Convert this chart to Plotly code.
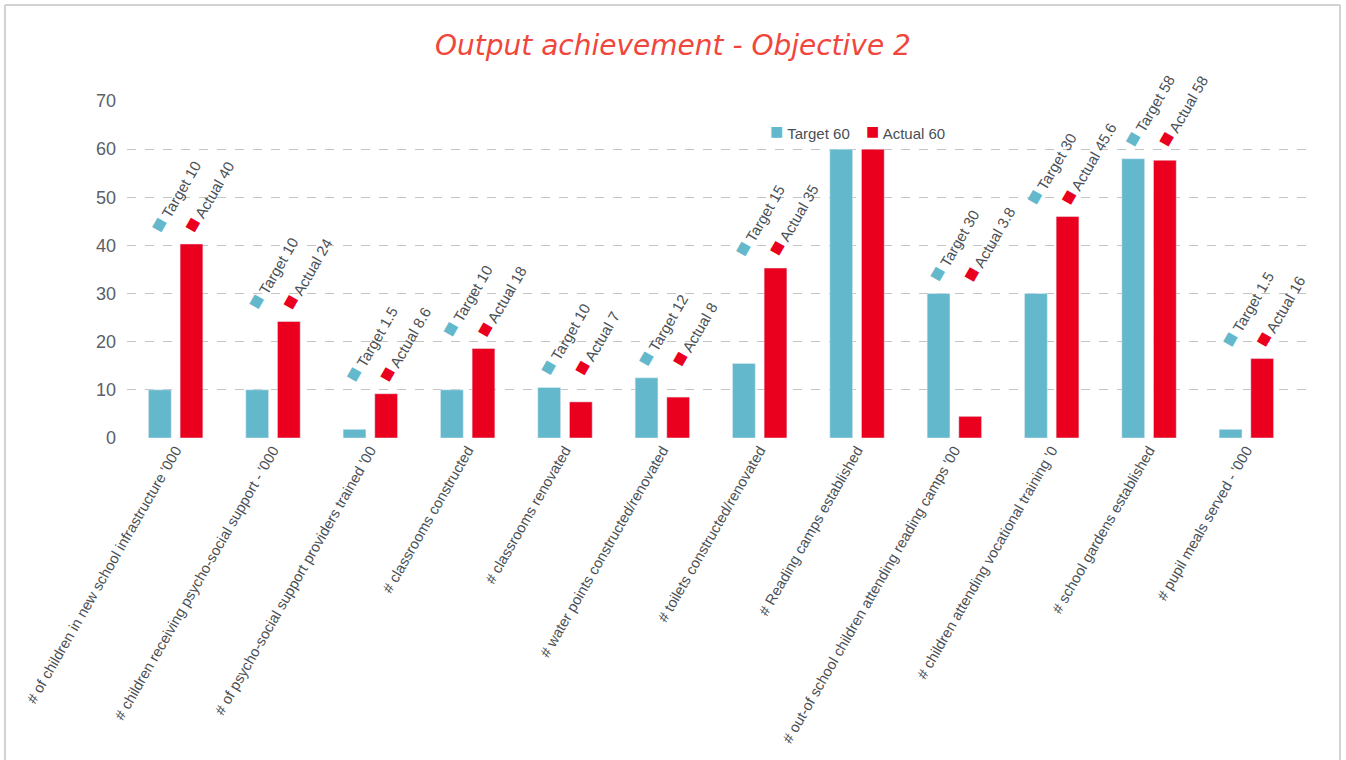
import plotly.graph_objects as go

categories = [
    "# of children in new school infrastructure '000",
    "# children receiving psycho-social support - '000",
    "# of psycho-social support providers trained '00",
    "# classrooms constructed",
    "# classrooms renovated",
    "# water points constructed/renovated",
    "# toilets constructed/renovated",
    "# Reading camps established",
    "# out-of school children attending reading camps '00",
    "# children attending vocational training '0",
    "# school gardens established",
    "# pupil meals served - '000",
]
target = [10, 10, 1.8, 10, 10.5, 12.5, 15.5, 60, 30, 30, 58, 1.8]
actual = [40.3, 24.2, 9.2, 18.6, 7.5, 8.5, 35.3, 60, 4.5, 46, 57.7, 16.5]
target_labels = ["Target 10", "Target 10", "Target 1.5", "Target 10", "Target 10", "Target 12",
                 "Target 15", "Target 60", "Target 30", "Target 30", "Target 58", "Target 1.5"]
actual_labels = ["Actual 40", "Actual 24", "Actual 8.6", "Actual 18", "Actual 7", "Actual 8",
                 "Actual 35", "Actual 60", "Actual 3.8", "Actual 45.6", "Actual 58", "Actual 16"]
y_ticks = [0, 10, 20, 30, 40, 50, 60, 70]

TEAL = "#63b8cc"
RED = "#ea001e"
FONT = "Liberation Sans Narrow, Arial Narrow, Liberation Sans, Arial, sans-serif"
TXT = "#4a4f55"

fig = go.Figure()
fig.add_trace(go.Bar(x=categories, y=target, name="Target", marker_color=TEAL))
fig.add_trace(go.Bar(x=categories, y=actual, name="Actual", marker_color=RED))

annotations = []
for i, cat in enumerate(categories):
    top = max(target[i], actual[i])
    if i == 7:
        annotations.append(dict(
            x=cat, y=top, xref="x", yref="y", showarrow=False,
            text=f"<span style='color:{TEAL};font-size:22px'>■</span> {target_labels[i]}",
            xanchor="right", yanchor="bottom", xshift=-5, yshift=3,
            font=dict(family=FONT, size=15, color=TXT)))
        annotations.append(dict(
            x=cat, y=top, xref="x", yref="y", showarrow=False,
            text=f"<span style='color:{RED};font-size:22px'>■</span> {actual_labels[i]}",
            xanchor="left", yanchor="bottom", xshift=7, yshift=3,
            font=dict(family=FONT, size=15, color=TXT)))
        continue
    for lab, col, off in ((target_labels[i], TEAL, -18), (actual_labels[i], RED, 16)):
        annotations.append(dict(
            x=cat, y=top, xref="x", yref="y", showarrow=False, textangle=-60,
            text=f"<span style='color:{col};font-size:22px'>■</span> {lab}",
            xanchor="left", yanchor="bottom", xshift=off - 16, yshift=5,
            font=dict(family=FONT, size=15, color=TXT)))

annotations.append(dict(
    text="Output achievement - Objective 2", xref="paper", yref="paper",
    x=0.46, y=1.165, showarrow=False, xanchor="center", yanchor="middle",
    font=dict(family="DejaVu Sans, sans-serif", size=28, color="#f0463c", style="italic")))

border = dict(color="#d2d2d2", width=2)
shapes = [
    dict(type="line", xref="paper", yref="paper", x0=-0.1029, x1=1.0228, y0=1.285, y1=1.285, line=border),
    dict(type="line", xref="paper", yref="paper", x0=-0.1029, x1=-0.1029, y0=1.285, y1=-1.0, line=border),
    dict(type="line", xref="paper", yref="paper", x0=1.0228, x1=1.0228, y0=1.285, y1=-1.0, line=border),
]

fig.update_layout(
    width=1346, height=760,
    margin=dict(l=127, r=33, t=101, b=322),
    paper_bgcolor="white", plot_bgcolor="white",
    showlegend=False,
    barmode="group", bargap=0.35, bargroupgap=0.28,
    annotations=annotations, shapes=shapes,
    font=dict(family=FONT, color=TXT),
    xaxis=dict(tickangle=-60, tickfont=dict(family=FONT, size=14.7, color=TXT),
               showgrid=False, showline=False, ticks=""),
    yaxis=dict(range=[0, 70], tickvals=y_ticks, tickfont=dict(family=FONT, size=18, color="#5a6068"),
               showgrid=True, gridcolor="#c4c4c4", griddash="dash", gridwidth=1,
               zeroline=False, showline=False, ticks="", ticklabelstandoff=10),
)

fig.write_html("out.html", config={"displayModeBar": False},
               post_script="document.body.style.margin='0';")
